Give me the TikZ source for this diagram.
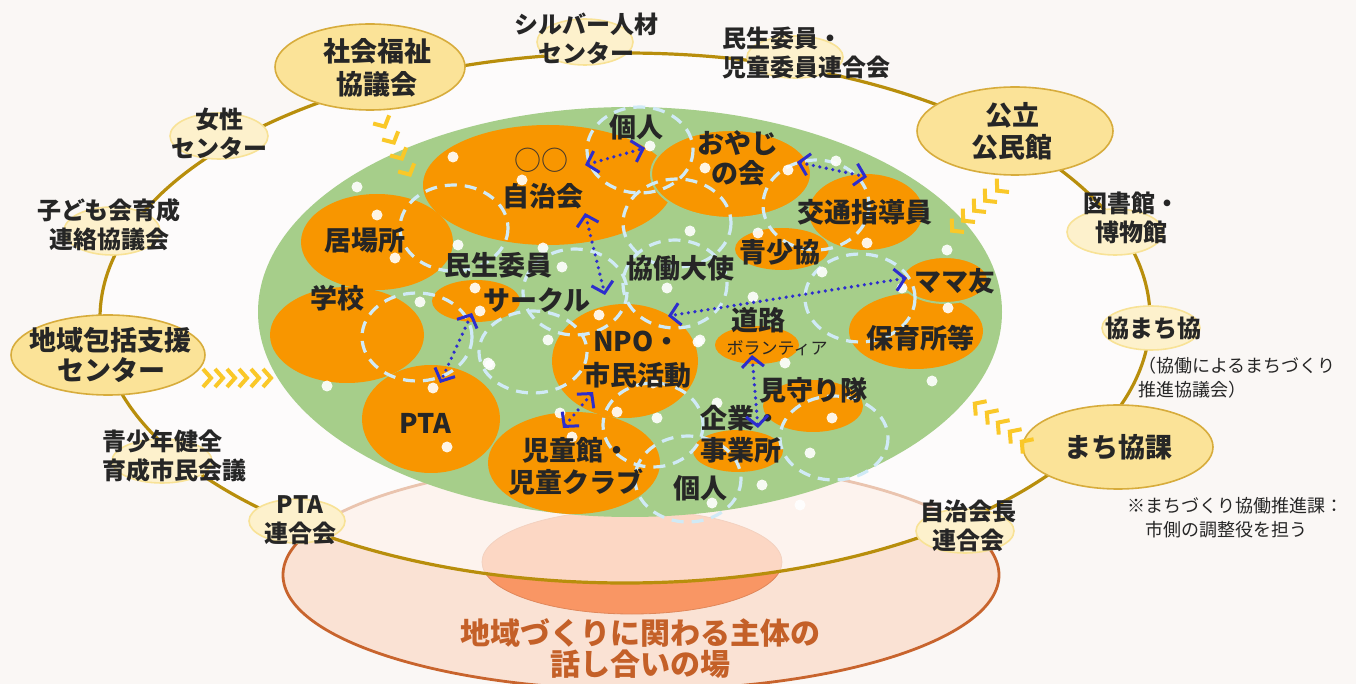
\documentclass[tikz,border=0pt]{standalone}
\usepackage{fontspec}
\setmainfont{Noto Sans CJK JP}
\usetikzlibrary{shapes.geometric,arrows.meta}
\definecolor{bg}{RGB}{250,247,245}
\definecolor{ringC}{RGB}{184,142,12}
\definecolor{bigY}{RGB}{251,227,152}
\definecolor{bigYb}{RGB}{215,172,60}
\definecolor{smY}{RGB}{253,241,204}
\definecolor{smYb}{RGB}{248,226,150}
\definecolor{grn}{RGB}{166,206,138}
\definecolor{orng}{RGB}{248,150,0}
\definecolor{dblue}{RGB}{208,234,246}
\definecolor{barw}{RGB}{45,45,205}
\definecolor{chevY}{RGB}{250,200,40}
\definecolor{txt}{RGB}{38,38,38}
\definecolor{peach}{RGB}{250,226,212}
\definecolor{peachB}{RGB}{200,100,45}
\definecolor{salmon}{RGB}{249,150,100}
\definecolor{btxt}{RGB}{196,96,40}
\begin{document}
\begin{tikzpicture}[x=0.5pt,y=-0.5pt,
 lbl/.style={font=\bfseries\fontsize{13.5}{16}\selectfont, text=txt, align=center, inner sep=0pt},
 slbl/.style={font=\bfseries\fontsize{12}{14.5}\selectfont, text=txt, align=center, inner sep=0pt},
 note/.style={font=\fontsize{9}{12}\selectfont, text=txt, align=left, inner sep=0pt, anchor=west},
 bigell/.style={ellipse, fill=bigY, draw=bigYb, line width=0.8pt, inner sep=0pt},
 smell/.style={ellipse, fill=smY, draw=smYb, line width=0.8pt, inner sep=0pt},
 orb/.style={fill=orng},
 orbg/.style={fill=orng, draw=grn, line width=1pt},
 dcirc/.style={draw=dblue, line width=1.6pt, dash pattern=on 6pt off 4pt},
 wdot/.style={fill=white, opacity=0.9},
 barrow/.style={draw=barw, line width=1.8pt, line cap=round, dash pattern=on 0pt off 3.3pt,
   {Straight Barb[length=5pt,width=11pt,line width=1.5pt]}-{Straight Barb[length=5pt,width=11pt,line width=1.5pt]}},
 chevline/.style={draw=chevY, line width=2pt},
 chev/.pic={\draw[chevline] (-4,-9) -- (4,0) -- (-4,9);},
]
\useasboundingbox (0,0) rectangle (1356,684);
\fill[bg] (0,0) rectangle (1356,684);

% bottom discussion field
\filldraw[fill=peach, draw=peachB, line width=1.4pt] (641,575) ellipse [x radius=358, y radius=115];
\filldraw[fill=salmon, draw=salmon!90!black, line width=0.4pt] (632,562) ellipse [x radius=150, y radius=52];
% ring interior overlay
\fill[white, opacity=0.62] (625,318) ellipse [x radius=525, y radius=265];
% ring
\draw[ringC, line width=1.6pt] (625,318) ellipse [x radius=525, y radius=265];

% green field
\fill[grn] (630,312) ellipse [x radius=372, y radius=205];

% orange groups
\fill[orb] (548,185) ellipse [x radius=125, y radius=60];
\filldraw[orbg] (731,174) ellipse [x radius=80, y radius=44];
\fill[orb] (866,212) ellipse [x radius=57, y radius=38];
\fill[orb] (782,249) ellipse [x radius=47, y radius=21];
\fill[orb] (916,331) ellipse [x radius=67, y radius=38];
\filldraw[orbg] (945,280) ellipse [x radius=43, y radius=23];
\fill[orb] (757,345) ellipse [x radius=42, y radius=19];
\fill[orb] (813,406) ellipse [x radius=50, y radius=26];
\fill[orb] (738,451) ellipse [x radius=45, y radius=21];
\fill[orb] (625,361) ellipse [x radius=73, y radius=57];
\fill[orb] (574,463) ellipse [x radius=86, y radius=51];
\fill[orb] (431,419) ellipse [x radius=69, y radius=54];
\fill[orb] (347,335) ellipse [x radius=77, y radius=48];
\fill[orb] (377,242) ellipse [x radius=76, y radius=48];
\fill[orb] (476,301) ellipse [x radius=44, y radius=21];

% dashed circles (individuals / informal groups)
\draw[dcirc] (640,150) ellipse [x radius=53, y radius=43];
\draw[dcirc] (454,228) ellipse [x radius=54, y radius=43];
\draw[dcirc] (677,223) ellipse [x radius=54, y radius=44];
\draw[dcirc] (816,205) ellipse [x radius=53, y radius=45];
\draw[dcirc] (675,284) ellipse [x radius=52, y radius=44];
\draw[dcirc] (575,292) ellipse [x radius=52, y radius=43];
\draw[dcirc] (417,337) ellipse [x radius=55, y radius=44];
\draw[dcirc] (533,352) ellipse [x radius=54, y radius=41];
\draw[dcirc] (653,425) ellipse [x radius=50, y radius=42];
\draw[dcirc] (688,479) ellipse [x radius=53, y radius=43];
\draw[dcirc] (834,438) ellipse [x radius=54, y radius=42];
\draw[dcirc] (860,298) ellipse [x radius=55, y radius=44];

% white dots
\foreach \p in {(357,187),(377,215),(395,258),(420,302),(453,157),(522,180),(458,245),(475,288),(480,311),
 (543,248),(562,267),(599,315),(548,340),(488,363),(650,146),(705,168),(788,170),(836,161),(690,231),
 (758,233),(867,243),(667,288),(753,297),(698,342),(560,413),(572,437),(617,412),(657,418),(327,386),
 (433,388),(447,447),(947,250),(822,272),(902,288),(948,308),(700,340),(785,363),(932,381),(832,418),
 (810,453),(717,403),(490,365),(653,383),(762,485),(712,503),(800,505)}
 \fill[wdot] \p circle (5.5);

% labels in the green field
\node[font=\fontsize{13.5}{16}\selectfont, text=txt!80!brown, inner sep=0pt] (maru) at (541,160) {○○};
\node[lbl] (jichi) at (543,196) {自治会};
\node[lbl] (kojin1) at (636,127) {個人};
\node[lbl, font=\bfseries\fontsize{13.5}{15}\selectfont] (oyaji) at (738,158) {おやじ\\の会};
\node[lbl] (kotsu) at (865,212) {交通指導員};
\node[lbl] (seisho) at (780,252) {青少協};
\node[lbl] (ibasho) at (365,240) {居場所};
\node[lbl] (gakko) at (337,298) {学校};
\node[lbl] (minsei) at (498,265) {民生委員};
\node[lbl] (circle) at (537,300) {サークル};
\node[lbl] (kyodo) at (680,268) {協働大使};
\node[lbl] (mama) at (955,281) {ママ友};
\node[lbl] (hoiku) at (920,338) {保育所等};
\node[lbl] (doro) at (758,320) {道路};
\node[font=\fontsize{8.5}{10}\selectfont, text=txt, inner sep=0pt] (vol) at (777,348) {ボランティア};
\node[lbl, font=\bfseries\fontsize{13.5}{17}\selectfont] (npo) at (637,360) {NPO・\\市民活動};
\node[lbl] (mimamori) at (813,390) {見守り隊};
\node[lbl] (kigyo) at (741,434) {企業・\\事業所};
\node[lbl] (pta) at (425,423) {PTA};
\node[lbl] (jido) at (576,466) {児童館・\\児童クラブ};
\node[lbl] (kojin2) at (700,488) {個人};

% blue double arrows
\coordinate (a1s) at (585,165); \coordinate (a1e) at (645,148);
\coordinate (a2s) at (585,213); \coordinate (a2e) at (605,295);
\coordinate (a3s) at (797,162); \coordinate (a3e) at (867,177);
\coordinate (a4s) at (907,278); \coordinate (a4e) at (668,316);
\coordinate (a5s) at (472,313); \coordinate (a5e) at (440,383);
\coordinate (a6s) at (593,392); \coordinate (a6e) at (563,428);
\coordinate (a7s) at (752,355); \coordinate (a7e) at (758,428);
\draw[barrow] (a1s) -- (a1e);
\draw[barrow] (a2s) -- (a2e);
\draw[barrow] (a3s) -- (a3e);
\draw[barrow] (a4s) -- (a4e);
\draw[barrow] (a5s) -- (a5e);
\draw[barrow] (a6s) -- (a6e);
\draw[barrow] (a7s) -- (a7e);

% ring organisations
\node[bigell, minimum width=95pt, minimum height=43pt] (shakyo) at (370,67) {};
\node[bigell, minimum width=98pt, minimum height=44pt] (koumin) at (1015,131) {};
\node[bigell, minimum width=97pt, minimum height=40pt] (houkatsu) at (108,355) {};
\node[bigell, minimum width=95pt, minimum height=42pt] (machika) at (1118,447) {};
\node[smell, minimum width=48pt, minimum height=23pt] (silver) at (585,42) {};
\node[smell, minimum width=48pt, minimum height=21pt] (minren) at (795,57) {};
\node[smell, minimum width=49pt, minimum height=23pt] (josei) at (219,136) {};
\node[smell, minimum width=48pt, minimum height=24pt] (kodomo) at (112,231) {};
\node[smell, minimum width=50pt, minimum height=22pt] (seishonen) at (162,461) {};
\node[smell, minimum width=48pt, minimum height=22pt] (ptaren) at (297,521) {};
\node[smell, minimum width=49pt, minimum height=22pt] (jichiren) at (965,531) {};
\node[smell, minimum width=48pt, minimum height=23pt] (tosho) at (1115,232) {};
\node[smell, minimum width=49pt, minimum height=22pt] (kyomachi) at (1151,328) {};

\node[lbl, font=\bfseries\fontsize{13.5}{16.5}\selectfont] (shakyo-t) at (377,68) {社会福祉\\協議会};
\node[lbl] (koumin-t) at (1012,131) {公立\\公民館};
\node[lbl, font=\bfseries\fontsize{13.5}{15}\selectfont] (houkatsu-t) at (111,355) {地域包括支援\\センター};
\node[lbl] (machika-t) at (1118,447) {まち協課};
\node[slbl] (silver-t) at (586,39) {シルバー人材\\センター};
\node[slbl, align=left] (minren-t) at (806,53) {民生委員・\\児童委員連合会};
\node[slbl] (josei-t) at (219,134) {女性\\センター};
\node[slbl] (kodomo-t) at (109,225) {子ども会育成\\連絡協議会};
\node[slbl, align=left] (seishonen-t) at (174,456) {青少年健全\\育成市民会議};
\node[slbl] (ptaren-t) at (300,520) {PTA\\連合会};
\node[slbl] (jichiren-t) at (968,526) {自治会長\\連合会};
\node[slbl] (tosho-t) at (1131,218) {図書館・\\博物館};
\node[slbl] (kyomachi-t) at (1153,328) {協まち協};

\node[note] (kyomachi-n) at (1138,378) {（協働によるまちづくり\\推進協議会）};
\node[note] (machika-n) at (1127,518) {※まちづくり協働推進課：\\\hspace*{1em}市側の調整役を担う};

% yellow chevrons (support / involvement)
\foreach \p in {(383,123),(392,139),(400,155),(408,171)} \pic[rotate=-63] at \p {chev};
\foreach \x in {207,219,231,243,255,267} \pic at (\x,378) {chev};
\foreach \p in {(1000,188),(988,198),(977,208),(966,218),(955,228)} \pic[rotate=-138] at \p {chev};
\foreach \p in {(978,406),(990,415),(1001,425),(1013,434),(1025,444)} \pic[rotate=143] at \p {chev};

% bottom title
\node[font=\bfseries\fontsize{15}{15.5}\selectfont, text=btxt, align=center, inner sep=0pt] (field) at (640,649) {地域づくりに関わる主体の\\話し合いの場};
\end{tikzpicture}
\end{document}
